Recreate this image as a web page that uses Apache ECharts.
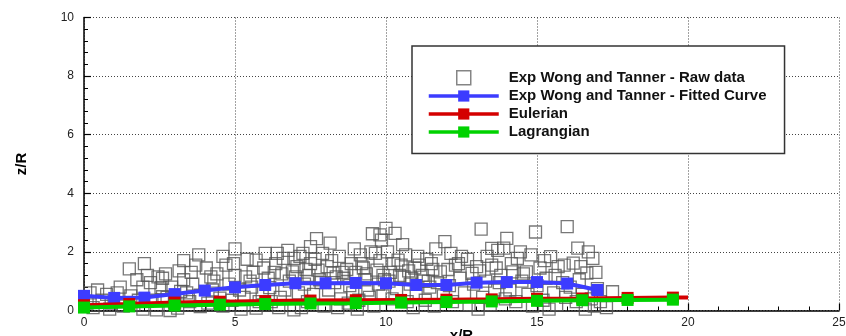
<!DOCTYPE html>
<html>
<head>
<meta charset="utf-8">
<script src="https://cdn.jsdelivr.net/npm/echarts@6/dist/echarts.min.js"></script>
<style>
  html, body { margin: 0; padding: 0; background: #fff; overflow: hidden; }
  #chart { width: 846px; height: 336px; }
</style>
</head>
<body>
<div id="chart"></div>
<script>
// Raw measurement cloud (x/R, z/R)
const rawX = [
  0.1, 0.45, 0.75, 0.9, 0.85, 1.2, 1.5, 1.55, 1.75, 1.8, 1.95, 0.3, 0.6, 1.3, 1.1, 0.2, 1.65, 1.95,
  2.2, 2.25, 2.45, 2.55, 2.6, 2.75, 2.85, 2.4, 2.6, 3.15, 3.3, 3.2, 3.1, 3.4, 3.55, 3.8, 3.85, 3.85, 3.6, 2.9, 3.5, 2.1, 3.0,
  4.05, 4.3, 4.25, 4.5, 4.7, 5.0, 5.0, 5.15, 5.35, 5.55, 5.7, 5.7, 5.95, 4.6, 4.9, 5.3, 5.8, 4.1, 5.5, 4.8, 5.9, 4.4, 5.2,
  6.15, 6.3, 6.4, 6.6, 6.65, 6.95, 6.9, 6.95, 7.05, 7.25, 7.5, 7.7, 7.75, 7.9, 6.2, 6.5, 6.8, 7.1, 7.3, 7.4, 7.6, 7.85, 6.1, 7.0, 7.5, 7.2, 7.95, 6.45,
  8.15, 8.25, 8.45, 8.85, 9.15, 9.5, 9.55, 9.85, 9.7, 8.1, 8.3, 8.5, 8.6, 8.75, 8.9, 9.0, 9.1, 9.3, 9.4, 9.6, 9.75, 9.9, 8.05, 8.4, 9.2, 9.45, 9.9, 8.7, 9.05, 9.8,
  10.0, 10.3, 9.8, 10.4, 10.5, 10.95, 11.1, 11.8, 11.95, 10.1, 10.2, 10.35, 10.6, 10.7, 10.8, 11.0, 11.2, 11.3, 11.45, 11.5, 11.6, 11.7, 11.9, 10.15, 10.9, 11.35, 10.05, 10.65, 11.55,
  12.3, 12.85, 13.15, 13.5, 13.7, 13.5, 12.1, 12.2, 12.45, 12.6, 12.75, 12.9, 13.0, 13.2, 13.3, 13.45, 13.6, 13.8, 13.9, 13.95, 12.5, 12.05, 13.05, 13.75,
  14.0, 14.2, 14.35, 14.65, 14.95, 15.1, 15.45, 15.7, 14.1, 14.3, 14.5, 14.7, 14.85, 15.0, 15.2, 15.3, 15.55, 15.65, 15.85, 15.95, 14.45, 15.4,
  16.0, 16.2, 16.35, 16.7, 16.85, 16.65, 17.5, 16.1, 16.3, 16.5, 16.6, 16.8, 16.9, 17.1, 17.3, 16.4, 17.0,
  2.0, 2.7, 3.3, 3.7, 4.2, 4.6, 4.95, 5.4, 5.6, 6.0, 6.35, 6.75, 7.15, 7.35, 7.65, 8.2, 8.55, 8.95, 9.25, 9.65,
  10.25, 10.55, 10.75, 11.05, 11.25, 11.65, 12.15, 12.4, 12.7, 13.1, 13.35, 13.65, 14.15, 14.55, 14.8, 15.25, 15.6, 15.9, 16.45, 16.95,
  8.35, 8.8, 9.35, 9.95, 10.45, 10.85, 11.4, 7.45, 7.8, 6.55
];
const rawZ = [
  0.25, 0.7, 0.55, 0.25, 0.05, 0.8, 1.42, 0.5, 1.05, 0.35, 0.8, 0.1, 0.35, 0.15, 0.6, 0.6, 0.2, 0.05,
  0.95, 0.35, 1.15, 0.78, 0.47, 0.45, 0.0, 0.02, 1.1, 1.35, 1.05, 0.65, 0.08, 0.6, 1.3, 1.9, 0.52, 0.13, 0.9, 0.8, 0.3, 1.2, 0.25,
  1.45, 1.0, 0.7, 0.42, 1.55, 2.1, 1.2, 0.7, 1.15, 0.8, 1.72, 0.08, 1.45, 0.15, 0.35, 0.45, 0.3, 0.25, 1.0, 0.9, 0.6, 1.25, 0.05,
  0.78, 1.3, 1.95, 1.78, 0.7, 1.78, 1.32, 0.02, 1.5, 1.95, 2.18, 2.45, 1.38, 1.95, 0.3, 0.45, 1.0, 0.6, 0.9, 0.3, 0.55, 0.95, 1.1, 1.15, 1.6, 0.1, 0.15, 0.1,
  2.3, 1.28, 1.85, 1.6, 1.9, 2.0, 2.62, 2.4, 1.38, 0.7, 0.95, 0.4, 1.1, 0.25, 0.6, 1.3, 0.35, 1.05, 0.7, 0.15, 0.9, 0.5, 1.5, 0.1, 1.6, 0.45, 1.2, 1.4, 0.05, 1.7,
  2.8, 2.63, 2.58, 1.72, 1.55, 1.45, 1.55, 1.32, 2.35, 1.0, 0.4, 0.75, 1.15, 0.3, 0.9, 0.6, 1.2, 0.35, 0.8, 1.6, 0.15, 0.95, 0.5, 1.3, 0.1, 1.75, 2.0, 1.9, 1.4,
  1.55, 1.27, 2.78, 2.12, 2.05, 1.55, 0.85, 0.3, 1.1, 0.6, 0.2, 0.9, 1.5, 0.45, 1.0, 0.2, 0.7, 1.2, 2.13, 0.4, 1.85, 1.4, 0.05, 0.95,
  2.46, 1.32, 1.78, 1.32, 2.68, 1.45, 1.84, 1.5, 0.7, 0.3, 1.0, 0.55, 0.15, 0.85, 0.35, 1.1, 0.6, 0.2, 0.95, 0.45, 2.0, 0.05,
  2.86, 1.62, 2.13, 2.0, 1.78, 1.28, 0.64, 0.8, 0.3, 0.55, 0.05, 0.4, 0.15, 0.3, 0.1, 1.05, 0.75,
  1.6, 1.25, 1.7, 1.55, 1.15, 1.85, 1.6, 1.75, 1.3, 1.95, 1.6, 2.05, 1.85, 1.4, 1.75, 1.7, 1.3, 2.1, 1.45, 1.95,
  1.6, 2.25, 1.35, 1.85, 1.0, 2.1, 1.95, 1.6, 1.75, 1.35, 1.85, 1.45, 1.6, 1.25, 1.9, 1.7, 1.2, 1.55, 1.5, 1.3,
  1.15, 0.85, 1.25, 1.05, 1.2, 1.1, 1.0, 1.2, 1.05, 1.25
];

// Fitted curve of the measurements
const fitX = [0, 1, 2, 3, 4, 5, 6, 7, 8, 9, 10, 11, 12, 13, 14, 15, 16, 17];
const fitZ = [0.5, 0.43, 0.44, 0.56, 0.68, 0.79, 0.87, 0.93, 0.93, 0.94, 0.93, 0.87, 0.87, 0.95, 0.97, 0.97, 0.92, 0.7];

// Eulerian model (line runs to x/R = 20, symbols every 1.5)
const eulX = [0, 1.5, 3, 4.5, 6, 7.5, 9, 10.5, 12, 13.5, 15, 16.5, 18, 19.5, 20];
const eulZ = [0.18, 0.22, 0.27, 0.3, 0.32, 0.34, 0.35, 0.36, 0.37, 0.38, 0.4, 0.41, 0.43, 0.44, 0.44];

// Lagrangian model
const lagX = [0, 1.5, 3, 4.5, 6, 7.5, 9, 10.5, 12, 13.5, 15, 16.5, 18, 19.5];
const lagZ = [0.1, 0.14, 0.17, 0.2, 0.22, 0.24, 0.25, 0.27, 0.29, 0.31, 0.33, 0.35, 0.36, 0.37];

const xTicks = { min: 0, max: 25, step: 5 };
const zTicks = { min: 0, max: 10, step: 2 };

const names = [
  'Exp Wong and Tanner - Raw data',
  'Exp Wong and Tanner - Fitted Curve',
  'Eulerian',
  'Lagrangian'
];

const pairs = (xs, ys) => xs.map((x, i) => [x, ys[i]]);

const FONT = '"Liberation Sans", Arial, Helvetica, sans-serif';

const axisCommon = {
  axisLine: { show: true, onZero: false, lineStyle: { color: '#000', width: 1.5 } },
  axisTick: { show: true, inside: true, length: 7, lineStyle: { color: '#000', width: 1.2 } },
  minorTick: { show: true, splitNumber: 5, length: 4, lineStyle: { color: '#000', width: 1 } },
  splitLine: { show: true, lineStyle: { color: '#444', type: [1, 2], width: 1 } },
  axisLabel: { color: '#222', fontFamily: FONT, fontSize: 12 },
  nameMoveOverlap: false,
  nameTextStyle: { color: '#000', fontFamily: FONT, fontSize: 15, fontWeight: 'bold' }
};

const chart = echarts.init(document.getElementById('chart'), null, { renderer: 'canvas' });

chart.setOption({
  animation: false,
  backgroundColor: '#fff',
  grid: { left: 84, right: 7, top: 17.5, bottom: 25.5, containLabel: false, outerBoundsMode: 'none' },
  xAxis: Object.assign({}, axisCommon, {
    type: 'value',
    min: xTicks.min, max: xTicks.max, interval: xTicks.step,
    name: 'x/R', nameLocation: 'middle', nameGap: 18,
    axisLabel: Object.assign({}, axisCommon.axisLabel, { margin: 6 })
  }),
  yAxis: Object.assign({}, axisCommon, {
    type: 'value',
    min: zTicks.min, max: zTicks.max, interval: zTicks.step,
    name: 'z/R', nameLocation: 'middle', nameGap: 55, nameRotate: 90,
    axisLabel: Object.assign({}, axisCommon.axisLabel, { margin: 10 })
  }),
  legend: {
    orient: 'vertical',
    left: 412, top: 46,
    padding: [24, 18, 14, 15],
    itemWidth: 70, itemHeight: 14, itemGap: 3,
    backgroundColor: '#fff',
    borderColor: '#333', borderWidth: 1.5,
    selectedMode: false,
    lineStyle: { width: 3.5 },
    textStyle: { fontFamily: FONT, fontSize: 15, lineHeight: 14, fontWeight: 'bold', color: '#111', padding: [0, 0, 0, 5] },
    data: [
      { name: names[0], icon: 'path://M0,0L10,0L10,10L0,10Z',
        itemStyle: { color: '#fff', borderColor: '#666', borderWidth: 1.5 } },
      { name: names[1] },
      { name: names[2] },
      { name: names[3] }
    ]
  },
  series: [
    {
      name: names[0], type: 'scatter', clip: false, z: 1,
      symbol: 'rect', symbolSize: 12,
      itemStyle: { color: 'rgba(255,255,255,0)', borderColor: '#555', borderWidth: 1.3 },
      data: pairs(rawX, rawZ)
    },
    {
      name: names[1], type: 'line', clip: false, z: 3,
      symbol: 'rect', symbolSize: 12, showAllSymbol: true,
      color: '#3c3cff',
      lineStyle: { color: '#3c3cff', width: 4 },
      itemStyle: { color: '#3c3cff' },
      data: pairs(fitX, fitZ)
    },
    {
      name: names[2], type: 'line', clip: false, z: 4,
      symbol: 'rect', symbolSize: 12, showAllSymbol: true,
      color: '#d40000',
      lineStyle: { color: '#d40000', width: 4 },
      itemStyle: { color: '#d40000' },
      data: pairs(eulX, eulZ).map((p, i) => i === eulX.length - 1 ? { value: p, symbol: 'none' } : p)
    },
    {
      name: names[3], type: 'line', clip: false, z: 5,
      symbol: 'rect', symbolSize: 12, showAllSymbol: true,
      color: '#00d200',
      lineStyle: { color: '#00d200', width: 4 },
      itemStyle: { color: '#00d200' },
      data: pairs(lagX, lagZ)
    }
  ]
});
</script>
</body>
</html>
